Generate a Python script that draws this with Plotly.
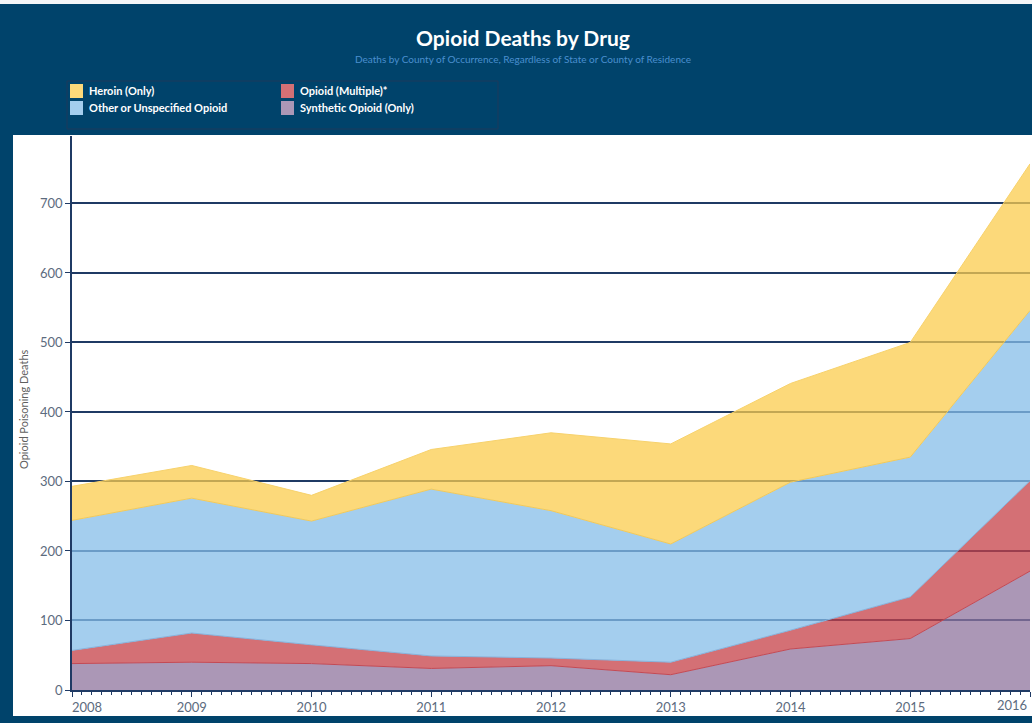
import plotly.graph_objects as go

# ---- data ----
years = [2008, 2009, 2010, 2011, 2012, 2013, 2014, 2015, 2016]
synthetic = [38, 40, 38, 31, 35, 22, 59, 74, 171]
multiple = [19, 42, 27, 18, 11, 18, 27, 60, 130]
other = [187, 194, 178, 240, 212, 170, 213, 201, 245]
heroin = [49, 47, 37, 57, 112, 144, 142, 165, 211]

series_names = ["Synthetic Opioid (Only)", "Opioid (Multiple)*",
                "Other or Unspecified Opioid", "Heroin (Only)"]
y_ticks = [0, 100, 200, 300, 400, 500, 600, 700]

# ---- style ----
BG = "#00436b"
NAVY = "#1f3a64"
TICKC = "#5c6b7e"
FILLS = {
    "Synthetic Opioid (Only)": "rgba(143,116,158,0.75)",
    "Opioid (Multiple)*": "rgba(198,64,71,0.75)",
    "Other or Unspecified Opioid": "rgba(134,190,232,0.75)",
    "Heroin (Only)": "rgba(251,204,78,0.75)",
}
SWATCH = {
    "Synthetic Opioid (Only)": "#ab97b6",
    "Opioid (Multiple)*": "#d47075",
    "Other or Unspecified Opioid": "#a4ceee",
    "Heroin (Only)": "#fcd97a",
}
LINES = {
    "Synthetic Opioid (Only)": "#c24a55",
    "Opioid (Multiple)*": "#86b3dc",
    "Other or Unspecified Opioid": "#f0c95c",
    "Heroin (Only)": "#f7d26c",
}
FONT = "Lato"

W, H = 1032, 723
L, R, T, B = 72, 2, 136, 33
PW, PH = W - L - R, H - T - B


def px(x):
    return (x - L) / PW


def py(y):
    return (H - B - y) / PH


fig = go.Figure()
data = {
    "Synthetic Opioid (Only)": synthetic,
    "Opioid (Multiple)*": multiple,
    "Other or Unspecified Opioid": other,
    "Heroin (Only)": heroin,
}
for name in series_names:
    fig.add_trace(go.Scatter(
        x=years, y=data[name], name=name, mode="lines",
        stackgroup="one", fillcolor=FILLS[name],
        line=dict(color=LINES[name], width=1),
        showlegend=False,
    ))

shapes = [
    # white chart panel
    dict(type="rect", xref="paper", yref="paper", layer="below",
         x0=px(13), x1=px(1040), y0=py(716), y1=py(135),
         fillcolor="white", line=dict(width=0)),
    # thin light strip at the very top
    dict(type="rect", xref="paper", yref="paper", layer="below",
         x0=px(-10), x1=px(1040), y0=py(4), y1=py(-5),
         fillcolor="#f4f6f8", line=dict(width=0)),
    # legend frame
    dict(type="rect", xref="paper", yref="paper", layer="above",
         x0=px(67), x1=px(498), y0=py(129), y1=py(81),
         fillcolor="rgba(0,0,0,0)", line=dict(color="#1d3a5c", width=1)),
]

annotations = [
    dict(text="Deaths by County of Occurrence, Regardless of State or County of Residence",
         xref="paper", yref="paper", x=px(523), y=py(59), showarrow=False,
         xanchor="center", yanchor="middle",
         font=dict(family=FONT, size=10, color="#4a8fcf")),
    dict(text="Opioid Poisoning Deaths", xref="paper", yref="paper",
         x=px(23), y=py(409), textangle=-90, showarrow=False,
         xanchor="center", yanchor="middle",
         font=dict(family=FONT, size=11, color="#5f5f5f")),
]

# legend (2 columns x 2 rows)
legend_layout = [
    ("Heroin (Only)", 70, 91),
    ("Opioid (Multiple)*", 281, 91),
    ("Other or Unspecified Opioid", 70, 108),
    ("Synthetic Opioid (Only)", 281, 108),
]
for name, lx, ly in legend_layout:
    shapes.append(dict(type="rect", xref="paper", yref="paper", layer="above",
                       x0=px(lx), x1=px(lx + 13), y0=py(ly + 7), y1=py(ly - 7),
                       fillcolor=SWATCH[name], line=dict(width=0)))
    annotations.append(dict(text="<b>" + name + "</b>", xref="paper", yref="paper",
                            x=px(lx + 17), y=py(ly), showarrow=False,
                            xanchor="left", yanchor="middle",
                            font=dict(family=FONT, size=11, color="white")))

# x tick labels: the first is nudged right (padding), the last is drawn
# right-aligned at its tick so it stays inside the view
pad = "\u2007" * 4
tick_text = [str(y) for y in years]
tick_text[0] = pad + tick_text[0]
tick_text[-1] = ""
annotations.append(dict(text=str(years[-1]), xref="x", yref="paper",
                        x=years[-1], y=py(705), showarrow=False,
                        xanchor="right", yanchor="middle", xshift=-1,
                        font=dict(family=FONT, size=13, color=TICKC)))

fig.update_layout(
    width=W, height=H,
    margin=dict(l=L, r=R, t=T, b=B, autoexpand=False),
    paper_bgcolor=BG, plot_bgcolor="white",
    title=dict(text="<b>Opioid Deaths by Drug</b>", xref="container", yref="container",
               x=523 / W, y=1 - 39 / H, xanchor="center", yanchor="middle",
               font=dict(family=FONT, size=21, color="white")),
    shapes=shapes, annotations=annotations,
    showlegend=False,
    xaxis=dict(range=[2008, 2016], tickvals=years, ticktext=tick_text,
               showgrid=False, zeroline=False,
               showline=True, linecolor=NAVY, linewidth=1.5,
               ticks="outside", ticklen=5, tickcolor=NAVY, tickwidth=1,
               minor=dict(dtick=1 / 12, tick0=2008, ticks="outside", ticklen=3,
                          tickcolor=NAVY, showgrid=False),
               tickfont=dict(family=FONT, size=13, color=TICKC),
               fixedrange=True),
    yaxis=dict(range=[0, 797], tickvals=y_ticks,
               showgrid=True, gridcolor=NAVY, gridwidth=1.5,
               zeroline=False,
               showline=True, linecolor=NAVY, linewidth=1.5,
               ticks="outside", ticklen=5, tickcolor=NAVY, tickwidth=1,
               tickfont=dict(family=FONT, size=13, color=TICKC),
               fixedrange=True),
)

fig.write_html(
    "out.html",
    config={"displayModeBar": False},
    post_script="document.body.style.margin='0px';document.body.style.overflow='hidden';",
)
